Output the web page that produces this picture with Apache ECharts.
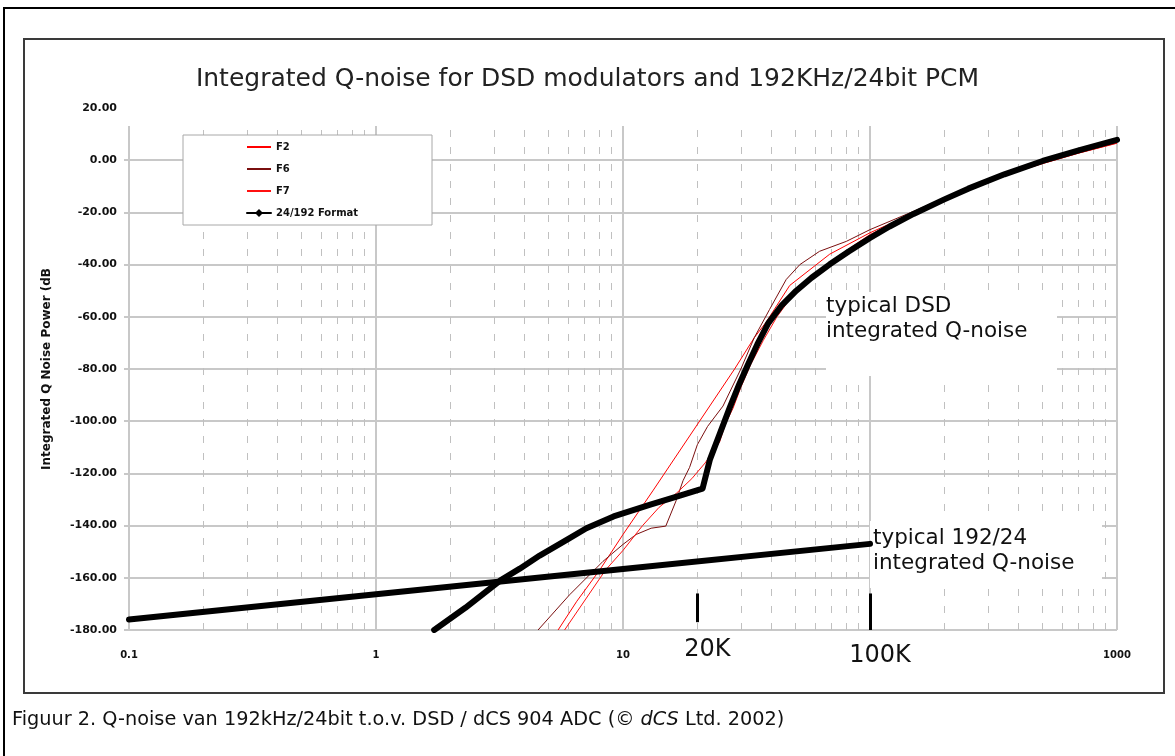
<!DOCTYPE html>
<html><head><meta charset="utf-8">
<script src="https://cdn.jsdelivr.net/npm/echarts@6/dist/echarts.min.js"></script>
<style>html,body{margin:0;padding:0;background:#fff;}#c{width:1175px;height:756px;}</style>
</head><body><div id="c"></div>
<script>
// ---- data (x = frequency in kHz, y = integrated Q-noise power in dB) ----
const titleText = 'Integrated Q-noise for DSD modulators and 192KHz/24bit PCM';
const yAxisName = 'Integrated Q Noise Power (dB';
const xTickLabels = ['0.1', '1', '10', '', '1000'];
const minorTicks = [0.2,0.3,0.4,0.5,0.6,0.7,0.8,0.9, 2,3,4,5,6,7,8,9, 20,30,40,50,60,70,80,90, 200,300,400,500,600,700,800,900];

const f2Freq = [5.46, 6.5, 8.05, 10, 13.2, 28.3, 34, 38, 47.3, 68.7, 100, 150, 200, 250, 350, 500, 700, 1000];
const f2Val  = [-180, -169, -157, -143.4, -126.7, -80, -68, -62, -48, -36, -27.8, -20.3, -15, -11, -5.8, -1.2, 2.8, 6.6];

const f6Freq = [4.53, 6.08, 8.3, 10, 11.3, 13, 14.9, 16.4, 17.5, 18.6, 20, 22, 25.4, 30, 34, 39.2, 45.8, 52, 62.5, 80.2, 100, 150, 200, 350, 500, 700, 1000];
const f6Val  = [-180, -166.5, -153.7, -147.2, -143.4, -141, -140.2, -130.5, -122.8, -117.7, -109, -102, -94.2, -80, -68, -57.2, -45.7, -40, -34.9, -31.1, -26.6, -19.6, -14.4, -5.2, -0.6, 3.5, 7.2];

const f7Freq = [5.8, 8.5, 10, 12, 14, 16.5, 19, 21.5, 24.6, 26, 27.9, 30, 33, 37, 42, 48, 58, 70, 85, 100, 150, 200, 350, 500, 700, 1000];
const f7Val  = [-180, -157, -149.5, -140, -133, -127.5, -122, -116, -108, -101, -95, -87, -78, -69, -60, -52.5, -44.5, -38.5, -33, -28.5, -20.6, -15.2, -5.8, -1.3, 2.7, 6.5];

const pcmFreq = [0.1, 1, 10, 100];
const pcmVal  = [-176, -166.3, -156.6, -147];

const dsdFreq = [1.72, 2.3, 3.19, 3.82, 4.6, 5.94, 7.11, 9.16, 12.9, 17, 21, 22.5, 24.6, 27, 29.5, 32, 35, 38.7, 44, 50.3, 58, 68.7, 82, 100, 120, 150, 200, 250, 350, 500, 700, 1000];
const dsdVal  = [-180, -171.5, -161, -156.5, -151.5, -145.4, -141, -136.5, -132, -128.5, -125.8, -114.6, -105, -95, -86, -78.5, -70.5, -62.5, -55.5, -50, -45.05, -39.9, -35, -29.8, -25.4, -20.6, -15, -10.9, -5.4, -0.3, 3.8, 7.8];

const markerFreq = [20, 100];
const markerLabel = ['20K', '100K'];
const markerTop = [-166, -166];
const markerBottom = [-177, -180];

const zip = (a, b) => a.map((v, i) => [v, b[i]]);
const FONT = 'DejaVu Sans';

const chart = echarts.init(document.getElementById('c'), null, {renderer: 'canvas'});
chart.setOption({
  animation: false,
  backgroundColor: '#fff',
  title: {
    text: titleText, left: 'center', top: 62, z: 6,
    textStyle: {fontFamily: FONT, fontSize: 25, fontWeight: 'normal', color: '#222'}
  },
  grid: {left: 129, right: 58, top: 108, bottom: 126},
  legend: {
    orient: 'vertical', left: 241, top: 137, itemWidth: 24, itemHeight: 10, itemGap: 12, z: 6,
    textStyle: {fontFamily: FONT, fontSize: 10, fontWeight: 'bold', color: '#111'},
    data: [
      {name: 'F2', itemStyle: {opacity: 0}},
      {name: 'F6', itemStyle: {opacity: 0}},
      {name: 'F7', itemStyle: {opacity: 0}},
      {name: '24/192 Format', lineStyle: {width: 2}}
    ]
  },
  xAxis: {
    type: 'log', logBase: 10, min: 0.1, max: 1000,
    axisLine: {show: true, lineStyle: {color: '#c8c8c8', width: 2}},
    axisTick: {show: false},
    axisLabel: {
      margin: 20, fontFamily: FONT, fontSize: 10, fontWeight: 'bold', color: '#111',
      formatter: v => xTickLabels[Math.round(Math.log10(v)) + 1] || ''
    },
    splitLine: {show: true, lineStyle: {color: '#c8c8c8', width: 2}}
  },
  yAxis: {
    type: 'value', min: -180, max: 20, interval: 20,
    name: yAxisName, nameLocation: 'middle', nameGap: 76, nameRotate: 90,
    nameTextStyle: {fontFamily: FONT, fontSize: 12, fontWeight: 'bold', color: '#111'},
    axisLine: {show: true, lineStyle: {color: '#c8c8c8', width: 2}},
    axisTick: {show: true, length: 5, lineStyle: {color: '#c8c8c8', width: 2}},
    axisLabel: {margin: 12, fontFamily: FONT, fontSize: 11, fontWeight: 'bold', color: '#111',
      formatter: v => v.toFixed(2)},
    splitLine: {show: true, lineStyle: {color: '#c8c8c8', width: 2}}
  },
  graphic: [
    {type: 'rect', z: 100, shape: {x: 4, y: 8, width: 1200, height: 800},
      style: {fill: 'none', stroke: '#000', lineWidth: 2}},
    {type: 'rect', z: 100, shape: {x: 24, y: 39, width: 1140, height: 654},
      style: {fill: 'none', stroke: '#3a3a3a', lineWidth: 2}},
    {type: 'rect', z: 3, shape: {x: 120, y: 98, width: 1002, height: 28},
      style: {fill: '#fff'}},
    {type: 'rect', z: 3, shape: {x: 183, y: 135, width: 249, height: 90},
      style: {fill: '#fff', stroke: '#a8a8a8', lineWidth: 1}},
    {type: 'rect', z: 3, shape: {x: 826, y: 292, width: 231, height: 84},
      style: {fill: '#fff'}},
    {type: 'rect', z: 3, shape: {x: 870, y: 521, width: 232, height: 67},
      style: {fill: '#fff'}},
    {type: 'text', z: 6, x: 826, y: 294,
      style: {text: 'typical DSD\nintegrated Q-noise', fontFamily: FONT, fontSize: 21.5, lineHeight: 25, fill: '#111'}},
    {type: 'text', z: 6, x: 873, y: 526,
      style: {text: 'typical 192/24\nintegrated Q-noise', fontFamily: FONT, fontSize: 21.5, lineHeight: 25, fill: '#111'}},
    {type: 'text', z: 6, x: 12, y: 710,
      style: {text: 'Figuur 2. Q-noise van 192kHz/24bit t.o.v. DSD / dCS 904 ADC (© {i|dCS} Ltd. 2002)',
        fontFamily: FONT, fontSize: 19.3, fill: '#111',
        rich: {i: {fontStyle: 'italic', fontFamily: FONT, fontSize: 19.3, fill: '#111'}}}}
  ],
  series: [
    {
      name: 'minor', type: 'line', z: 0, data: [[0.1, -180]], showSymbol: false, silent: true,
      lineStyle: {opacity: 0},
      markLine: {
        silent: true, symbol: ['none', 'none'], label: {show: false}, z: 0,
        lineStyle: {color: '#c0c0c0', width: 1, type: [7, 10]},
        data: minorTicks.map(v => ({xAxis: v}))
      }
    },
    {name: 'F2', type: 'line', z: 5, data: zip(f2Freq, f2Val), showSymbol: false, symbol: 'none',
      lineStyle: {color: '#ff0000', width: 1}, itemStyle: {color: '#ff0000'}},
    {name: 'F6', type: 'line', z: 5, data: zip(f6Freq, f6Val), showSymbol: false, symbol: 'none',
      lineStyle: {color: '#7a0f0f', width: 1}, itemStyle: {color: '#7a0f0f'}},
    {name: 'F7', type: 'line', z: 5, data: zip(f7Freq, f7Val), showSymbol: false, symbol: 'none',
      lineStyle: {color: '#ff1010', width: 1}, itemStyle: {color: '#ff1010'}},
    {name: '24/192 Format', type: 'line', z: 5, data: zip(pcmFreq, pcmVal), symbol: 'diamond', symbolSize: 5,
      lineStyle: {color: '#000', width: 6, cap: 'round', join: 'round'}, itemStyle: {color: '#000'}},
    {name: 'DSD typical', type: 'line', z: 5, data: zip(dsdFreq, dsdVal), showSymbol: false, symbol: 'none',
      lineStyle: {color: '#000', width: 6, cap: 'round', join: 'round'}, itemStyle: {color: '#000'}},
    {
      name: 'markers', type: 'line', z: 6, data: [[0.1, -180]], showSymbol: false, silent: true,
      lineStyle: {opacity: 0},
      markLine: {
        silent: true, symbol: ['none', 'none'], z: 6,
        lineStyle: {color: '#000', width: 3, type: 'solid'},
        label: {show: true, position: 'end', fontFamily: FONT, fontSize: 24, color: '#111', padding: [0, 0, 0, 20]},
        data: markerFreq.map((f, i) => [
          {coord: [f, markerTop[i]]},
          {coord: [f, markerBottom[i]], label: {formatter: markerLabel[i], distance: i === 0 ? 16 : 14}}
        ])
      }
    }
  ]
});
</script></body></html>
